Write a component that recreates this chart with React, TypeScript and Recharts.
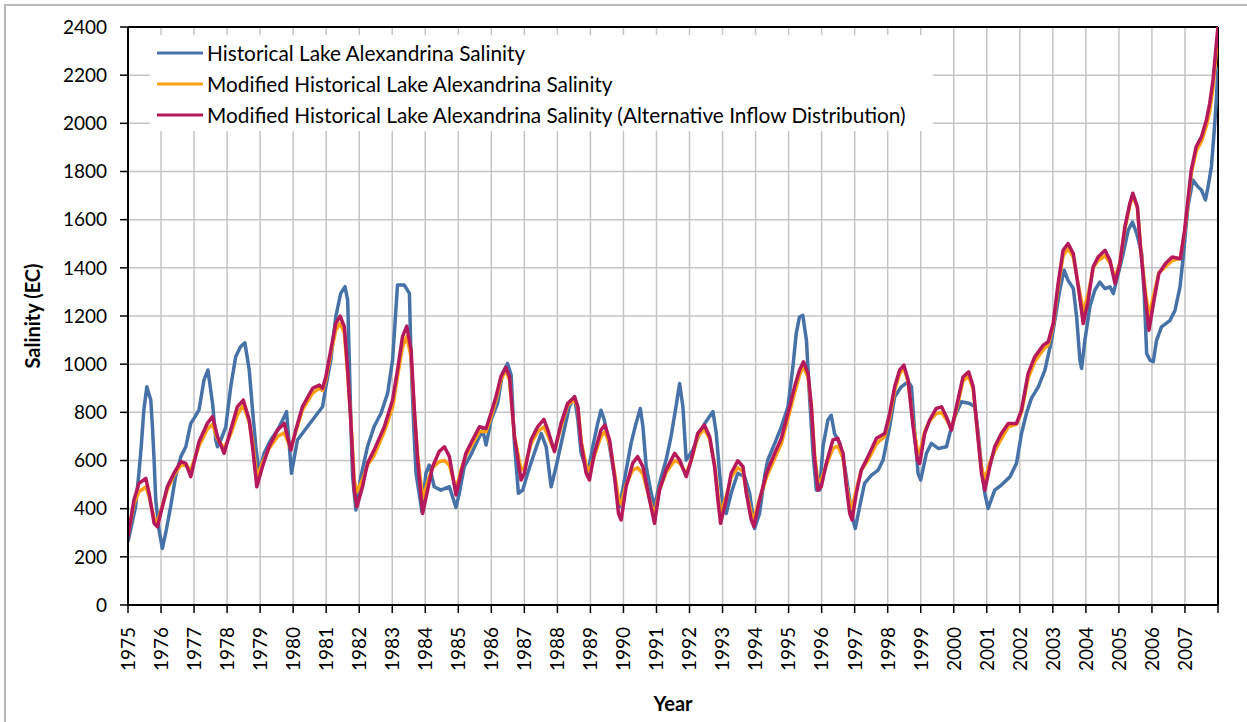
import { LineChart, Line, XAxis, YAxis, CartesianGrid, Legend, ReferenceLine, Label } from 'recharts'

// x ticks (years) and y ticks (EC)
const YEARS = [
  1975, 1976, 1977, 1978, 1979, 1980, 1981, 1982, 1983, 1984, 1985, 1986,
  1987, 1988, 1989, 1990, 1991, 1992, 1993, 1994, 1995, 1996, 1997, 1998,
  1999, 2000, 2001, 2002, 2003, 2004, 2005, 2006, 2007, 2008,
]
const EC_TICKS = [0, 200, 400, 600, 800, 1000, 1200, 1400, 1600, 1800, 2000, 2200, 2400]

// [year, salinity EC]
const HISTORICAL: [number, number][] = [
  [1975.0, 263], [1975.23, 408], [1975.33, 547], [1975.4, 657], [1975.48, 810], [1975.57, 906],
  [1975.69, 851], [1975.74, 740], [1975.79, 602], [1975.84, 436], [1975.94, 311], [1976.04, 235],
  [1976.14, 298], [1976.29, 408], [1976.44, 533], [1976.6, 616], [1976.75, 657], [1976.9, 754],
  [1977.0, 775], [1977.15, 810], [1977.3, 934], [1977.42, 976], [1977.56, 837], [1977.66, 685],
  [1977.71, 657], [1977.81, 685], [1977.96, 740], [1978.11, 906], [1978.26, 1031], [1978.41, 1073],
  [1978.54, 1089], [1978.67, 976], [1978.77, 810], [1978.87, 657], [1978.97, 547], [1979.12, 630],
  [1979.32, 685], [1979.53, 727], [1979.73, 782], [1979.8, 803], [1979.95, 547], [1980.13, 685],
  [1980.43, 740], [1980.74, 796], [1980.89, 823], [1980.99, 906], [1981.14, 1017], [1981.29, 1197],
  [1981.44, 1294], [1981.57, 1322], [1981.65, 1266], [1981.7, 1017], [1981.75, 740], [1981.8, 533],
  [1981.9, 394], [1982.05, 533], [1982.25, 657], [1982.45, 740], [1982.66, 796], [1982.86, 879],
  [1983.01, 1017], [1983.16, 1329], [1983.36, 1329], [1983.52, 1294], [1983.57, 1017], [1983.65, 740],
  [1983.72, 547], [1983.9, 387], [1984.02, 547], [1984.12, 581], [1984.27, 491], [1984.47, 477],
  [1984.73, 491], [1984.93, 405], [1985.03, 464], [1985.18, 574], [1985.38, 623], [1985.59, 685],
  [1985.74, 727], [1985.84, 664], [1985.99, 768], [1986.19, 837], [1986.34, 962], [1986.49, 1003],
  [1986.6, 955], [1986.7, 671], [1986.82, 464], [1986.95, 477], [1987.1, 547], [1987.3, 630],
  [1987.51, 713], [1987.66, 657], [1987.81, 491], [1987.96, 574], [1988.16, 699], [1988.36, 823],
  [1988.52, 865], [1988.62, 768], [1988.72, 630], [1988.92, 547], [1989.07, 657], [1989.22, 754],
  [1989.32, 809], [1989.42, 768], [1989.58, 657], [1989.73, 533], [1989.88, 408], [1990.03, 519],
  [1990.23, 671], [1990.38, 754], [1990.51, 816], [1990.59, 740], [1990.69, 574], [1990.84, 464],
  [1990.94, 408], [1991.09, 505], [1991.29, 602], [1991.44, 699], [1991.59, 823], [1991.7, 920],
  [1991.8, 823], [1991.9, 602], [1992.1, 643], [1992.31, 713], [1992.46, 754], [1992.71, 803],
  [1992.81, 713], [1992.91, 547], [1993.01, 408], [1993.11, 380], [1993.26, 464], [1993.46, 547],
  [1993.67, 533], [1993.82, 464], [1993.97, 318], [1994.12, 380], [1994.28, 540], [1994.37, 602],
  [1994.58, 671], [1994.78, 740], [1994.98, 823], [1995.13, 989], [1995.23, 1127], [1995.33, 1196],
  [1995.43, 1203], [1995.54, 1099], [1995.64, 851], [1995.74, 629], [1995.84, 477], [1995.94, 477],
  [1996.04, 657], [1996.19, 768], [1996.29, 788], [1996.39, 712], [1996.55, 671], [1996.7, 574],
  [1996.85, 436], [1996.95, 353], [1997.02, 318], [1997.15, 408], [1997.3, 505], [1997.51, 539],
  [1997.71, 560], [1997.86, 602], [1998.06, 740], [1998.21, 864], [1998.41, 906], [1998.62, 927],
  [1998.72, 906], [1998.82, 712], [1998.92, 546], [1999.0, 519], [1999.17, 629], [1999.32, 671],
  [1999.53, 650], [1999.78, 657], [1999.88, 712], [2000.03, 781], [2000.23, 844], [2000.48, 837],
  [2000.64, 823], [2000.74, 712], [2000.84, 574], [2000.94, 464], [2001.04, 401], [2001.24, 477],
  [2001.44, 498], [2001.7, 532], [2001.9, 588], [2002.05, 712], [2002.2, 795], [2002.35, 858],
  [2002.56, 906], [2002.76, 975], [2002.96, 1099], [2003.21, 1307], [2003.34, 1390], [2003.46, 1348],
  [2003.62, 1314], [2003.72, 1196], [2003.82, 1017], [2003.87, 982], [2003.97, 1099], [2004.12, 1238],
  [2004.27, 1307], [2004.42, 1341], [2004.58, 1314], [2004.73, 1321], [2004.83, 1293], [2004.93, 1348],
  [2005.13, 1459], [2005.28, 1556], [2005.41, 1590], [2005.54, 1542], [2005.69, 1459], [2005.77, 1279],
  [2005.84, 1044], [2005.94, 1017], [2006.04, 1010], [2006.14, 1099], [2006.29, 1155], [2006.55, 1182],
  [2006.7, 1224], [2006.85, 1321], [2006.95, 1450], [2007.09, 1654], [2007.24, 1765], [2007.39, 1737],
  [2007.5, 1723], [2007.62, 1682], [2007.7, 1737], [2007.8, 1820], [2007.88, 1958], [2007.95, 2097],
  [2008.0, 2235],
]

const MODIFIED: [number, number][] = [
  [1975.0, 290], [1975.18, 420], [1975.33, 470], [1975.54, 490], [1975.64, 450], [1975.79, 360],
  [1975.89, 345], [1976.04, 410], [1976.19, 480], [1976.39, 540], [1976.6, 580], [1976.75, 580],
  [1976.9, 560], [1977.15, 660], [1977.4, 730], [1977.56, 750], [1977.71, 690], [1977.91, 650],
  [1978.11, 710], [1978.31, 790], [1978.49, 830], [1978.67, 760], [1978.77, 680], [1978.9, 530],
  [1979.07, 590], [1979.27, 650], [1979.53, 700], [1979.73, 715], [1979.93, 650], [1980.08, 720],
  [1980.28, 810], [1980.59, 880], [1980.79, 900], [1980.89, 890], [1980.99, 935], [1981.14, 1045],
  [1981.29, 1140], [1981.42, 1170], [1981.55, 1130], [1981.65, 960], [1981.75, 760], [1981.85, 520],
  [1981.93, 470], [1982.1, 520], [1982.25, 580], [1982.45, 620], [1982.76, 720], [1983.01, 820],
  [1983.16, 950], [1983.31, 1070], [1983.44, 1115], [1983.57, 1030], [1983.67, 800], [1983.77, 620],
  [1983.92, 440], [1984.07, 510], [1984.22, 570], [1984.42, 595], [1984.58, 600], [1984.73, 580],
  [1984.93, 480], [1985.08, 560], [1985.23, 620], [1985.43, 670], [1985.64, 720], [1985.84, 720],
  [1985.99, 780], [1986.14, 850], [1986.29, 935], [1986.44, 975], [1986.55, 935], [1986.7, 700],
  [1986.9, 560], [1987.0, 570], [1987.2, 670], [1987.4, 720], [1987.59, 740], [1987.71, 705],
  [1987.91, 640], [1988.11, 740], [1988.31, 830], [1988.52, 855], [1988.62, 820], [1988.72, 680],
  [1988.87, 580], [1988.97, 555], [1989.12, 620], [1989.32, 700], [1989.44, 720], [1989.58, 670],
  [1989.73, 550], [1989.85, 440], [1989.93, 420], [1990.08, 500], [1990.28, 560], [1990.43, 570],
  [1990.59, 545], [1990.79, 440], [1990.94, 370], [1991.09, 480], [1991.29, 550], [1991.55, 600],
  [1991.7, 590], [1991.9, 545], [1992.05, 600], [1992.25, 700], [1992.45, 730], [1992.61, 690],
  [1992.76, 580], [1992.86, 460], [1992.94, 380], [1993.11, 450], [1993.26, 530], [1993.46, 570],
  [1993.62, 555], [1993.72, 470], [1993.87, 380], [1993.95, 360], [1994.12, 440], [1994.33, 530],
  [1994.58, 610], [1994.78, 670], [1995.03, 800], [1995.18, 880], [1995.33, 955], [1995.45, 990],
  [1995.59, 945], [1995.69, 820], [1995.79, 620], [1995.89, 510], [1995.99, 520], [1996.14, 580],
  [1996.34, 650], [1996.49, 660], [1996.65, 610], [1996.75, 500], [1996.85, 420], [1996.92, 400],
  [1997.05, 480], [1997.2, 560], [1997.4, 600], [1997.66, 670], [1997.91, 700], [1998.06, 780],
  [1998.21, 890], [1998.36, 960], [1998.49, 985], [1998.62, 925], [1998.77, 750], [1998.9, 640],
  [1998.97, 630], [1999.12, 720], [1999.27, 765], [1999.47, 795], [1999.63, 800], [1999.78, 770],
  [1999.93, 730], [2000.08, 810], [2000.28, 930], [2000.45, 950], [2000.59, 895], [2000.74, 690],
  [2000.84, 570], [2000.94, 520], [2001.09, 590], [2001.24, 640], [2001.44, 690], [2001.65, 740],
  [2001.9, 750], [2002.05, 800], [2002.25, 940], [2002.45, 1010], [2002.71, 1060], [2002.86, 1080],
  [2003.01, 1160], [2003.16, 1320], [2003.31, 1450], [2003.46, 1480], [2003.62, 1445], [2003.77, 1330],
  [2003.92, 1220], [2004.07, 1290], [2004.22, 1400], [2004.37, 1430], [2004.58, 1450], [2004.73, 1420],
  [2004.88, 1360], [2005.03, 1420], [2005.18, 1560], [2005.33, 1660], [2005.42, 1700], [2005.56, 1650],
  [2005.66, 1480], [2005.81, 1290], [2005.91, 1200], [2006.06, 1290], [2006.21, 1380], [2006.41, 1405],
  [2006.61, 1430], [2006.86, 1440], [2006.99, 1550], [2007.09, 1670], [2007.19, 1790], [2007.34, 1885],
  [2007.5, 1925], [2007.65, 1990], [2007.75, 2050], [2007.85, 2150], [2007.95, 2300], [2008.0, 2400],
]

const MODIFIED_ALT: [number, number][] = [
  [1975.0, 284], [1975.18, 436], [1975.33, 505], [1975.54, 526], [1975.64, 464], [1975.79, 339],
  [1975.89, 325], [1976.04, 408], [1976.19, 491], [1976.39, 547], [1976.6, 595], [1976.75, 588],
  [1976.9, 533], [1977.15, 678], [1977.4, 754], [1977.56, 782], [1977.71, 699], [1977.91, 630],
  [1978.11, 727], [1978.31, 823], [1978.49, 851], [1978.67, 768], [1978.77, 657], [1978.9, 491],
  [1979.07, 574], [1979.27, 657], [1979.53, 727], [1979.73, 754], [1979.93, 643], [1980.08, 727],
  [1980.28, 823], [1980.59, 900], [1980.79, 913], [1980.89, 900], [1980.99, 948], [1981.14, 1059],
  [1981.29, 1169], [1981.42, 1200], [1981.55, 1156], [1981.65, 976], [1981.75, 754], [1981.85, 477],
  [1981.93, 408], [1982.1, 491], [1982.25, 588], [1982.45, 643], [1982.76, 740], [1983.01, 851],
  [1983.16, 976], [1983.31, 1114], [1983.44, 1158], [1983.57, 1059], [1983.67, 809], [1983.77, 602],
  [1983.92, 380], [1984.07, 477], [1984.22, 574], [1984.42, 637], [1984.58, 657], [1984.73, 616],
  [1984.93, 457], [1985.08, 547], [1985.23, 630], [1985.43, 685], [1985.64, 740], [1985.84, 733],
  [1985.99, 796], [1986.14, 865], [1986.29, 948], [1986.44, 987], [1986.55, 948], [1986.7, 699],
  [1986.9, 519], [1987.0, 547], [1987.2, 685], [1987.4, 740], [1987.59, 771], [1987.71, 727],
  [1987.91, 637], [1988.11, 754], [1988.31, 837], [1988.52, 865], [1988.62, 823], [1988.72, 671],
  [1988.87, 547], [1988.97, 519], [1989.12, 630], [1989.32, 727], [1989.44, 747], [1989.58, 685],
  [1989.73, 533], [1989.85, 380], [1989.93, 353], [1990.08, 491], [1990.28, 588], [1990.43, 616],
  [1990.59, 574], [1990.79, 436], [1990.94, 339], [1991.09, 477], [1991.29, 560], [1991.55, 630],
  [1991.7, 602], [1991.9, 533], [1992.05, 602], [1992.25, 713], [1992.45, 747], [1992.61, 699],
  [1992.76, 574], [1992.86, 436], [1992.94, 339], [1993.11, 436], [1993.26, 547], [1993.46, 599],
  [1993.62, 574], [1993.72, 464], [1993.87, 353], [1993.95, 325], [1994.12, 436], [1994.33, 547],
  [1994.58, 630], [1994.78, 692], [1995.03, 823], [1995.18, 906], [1995.33, 975], [1995.45, 1010],
  [1995.59, 961], [1995.69, 823], [1995.79, 602], [1995.89, 477], [1995.99, 491], [1996.14, 588],
  [1996.34, 685], [1996.49, 692], [1996.65, 629], [1996.75, 491], [1996.85, 380], [1996.92, 353],
  [1997.05, 464], [1997.2, 560], [1997.4, 615], [1997.66, 692], [1997.91, 712], [1998.06, 795],
  [1998.21, 906], [1998.36, 975], [1998.49, 996], [1998.62, 934], [1998.77, 740], [1998.9, 602],
  [1998.97, 588], [1999.12, 712], [1999.27, 768], [1999.47, 816], [1999.63, 823], [1999.78, 781],
  [1999.93, 726], [2000.08, 823], [2000.28, 947], [2000.45, 968], [2000.59, 906], [2000.74, 685],
  [2000.84, 546], [2000.94, 477], [2001.09, 574], [2001.24, 657], [2001.44, 712], [2001.65, 754],
  [2001.9, 754], [2002.05, 809], [2002.25, 961], [2002.45, 1030], [2002.71, 1079], [2002.86, 1093],
  [2003.01, 1169], [2003.16, 1335], [2003.31, 1473], [2003.46, 1501], [2003.62, 1459], [2003.77, 1321],
  [2003.92, 1169], [2004.07, 1265], [2004.22, 1404], [2004.37, 1445], [2004.58, 1473], [2004.73, 1431],
  [2004.88, 1335], [2005.03, 1418], [2005.18, 1570], [2005.33, 1667], [2005.42, 1710], [2005.56, 1653],
  [2005.66, 1473], [2005.81, 1265], [2005.91, 1141], [2006.06, 1265], [2006.21, 1376], [2006.41, 1418],
  [2006.61, 1445], [2006.86, 1438], [2006.99, 1557], [2007.09, 1682], [2007.19, 1806], [2007.34, 1903],
  [2007.5, 1944], [2007.65, 2014], [2007.75, 2083], [2007.85, 2180], [2007.95, 2332], [2008.0, 2400],
]

const SERIES = [
  { name: 'Historical Lake Alexandrina Salinity', color: '#4672a8', points: HISTORICAL },
  { name: 'Modified Historical Lake Alexandrina Salinity', color: '#ffa010', points: MODIFIED },
  { name: 'Modified Historical Lake Alexandrina Salinity (Alternative Inflow Distribution)', color: '#b5195b', points: MODIFIED_ALT },
]

const FONT = 'Lato, "Open Sans", sans-serif'

function YearTick({ x, y, payload }: any) {
  // last gridline (2008) has a tick mark but no label
  if (payload.value === 2008) return <g />
  return (
    <text
      x={0}
      y={0}
      transform={`translate(${x},${y}) rotate(-90)`}
      textAnchor="end"
      dy="0.36em"
      fontSize={19}
      fontFamily={FONT}
      fill="#000"
    >
      {payload.value}
    </text>
  )
}

function LegendBox() {
  return (
    <div style={{ background: '#fff', width: 783, height: 96, padding: '2px 0 0 7px', boxSizing: 'border-box', fontFamily: FONT }}>
      {SERIES.map(s => (
        <div key={s.name} style={{ display: 'flex', alignItems: 'center', height: 31 }}>
          <svg width={46} height={6}>
            <line x1={0} y1={3} x2={46} y2={3} stroke={s.color} strokeWidth={3} />
          </svg>
          <span style={{ marginLeft: 4, fontSize: 20.8, color: '#000', whiteSpace: 'nowrap' }}>{s.name}</span>
        </div>
      ))}
    </div>
  )
}

export default function App() {
  return (
    <div style={{ position: 'fixed', left: 0, top: 0, width: 1247, height: 722, background: '#fff', overflow: 'hidden' }}>
      <div style={{ position: 'absolute', left: 4, top: 4, width: 1300, height: 800, border: '2px solid #b8b8b8' }} />
      <div style={{ position: 'absolute', left: 0, top: 0 }}>
        <LineChart width={1247} height={722} margin={{ top: 27, right: 29, left: 68, bottom: 37 }}>
          <CartesianGrid stroke="#c4c4c4" strokeWidth={1.5} />
          <XAxis
            type="number"
            dataKey="year"
            domain={[1975, 2008]}
            ticks={YEARS}
            interval={0}
            allowDataOverflow
            height={80}
            tickSize={8}
            tickMargin={14}
            tick={<YearTick />}
            stroke="#000"
            strokeWidth={2}
            tickLine={{ stroke: '#000', strokeWidth: 1.5 }}
          >
            <Label
              content={() => (
                <text x={673} y={703} textAnchor="middle" dominantBaseline="central" fontSize={20} fontWeight="bold" fontFamily={FONT} fill="#000">
                  Year
                </text>
              )}
            />
          </XAxis>
          <YAxis
            type="number"
            domain={[0, 2400]}
            ticks={EC_TICKS}
            interval={0}
            width={60}
            tickSize={8}
            tickMargin={13}
            tick={{ fontSize: 19, fontFamily: FONT, fill: '#000' }}
            stroke="#000"
            strokeWidth={2}
            tickLine={{ stroke: '#000', strokeWidth: 1.5 }}
          >
            <Label
              content={() => (
                <text x={32} y={316} transform="rotate(-90 32 316)" textAnchor="middle" dominantBaseline="central" fontSize={20} fontWeight="bold" fontFamily={FONT} fill="#000">
                  Salinity (EC)
                </text>
              )}
            />
          </YAxis>
          <ReferenceLine y={2400} stroke="#000" strokeWidth={2} />
          <ReferenceLine x={2008} stroke="#000" strokeWidth={2} />
          {SERIES.map(s => (
            <Line
              key={s.name}
              name={s.name}
              data={s.points.map(([year, value]) => ({ year, value }))}
              dataKey="value"
              type="linear"
              stroke={s.color}
              strokeWidth={3.5}
              strokeLinejoin="round"
              dot={false}
              activeDot={false}
              isAnimationActive={false}
            />
          ))}
          <Legend
            layout="vertical"
            align="center"
            verticalAlign="middle"
            content={<LegendBox />}
            wrapperStyle={{ left: 150, top: 35, width: 783, height: 96 }}
          />
        </LineChart>
      </div>
    </div>
  )
}
